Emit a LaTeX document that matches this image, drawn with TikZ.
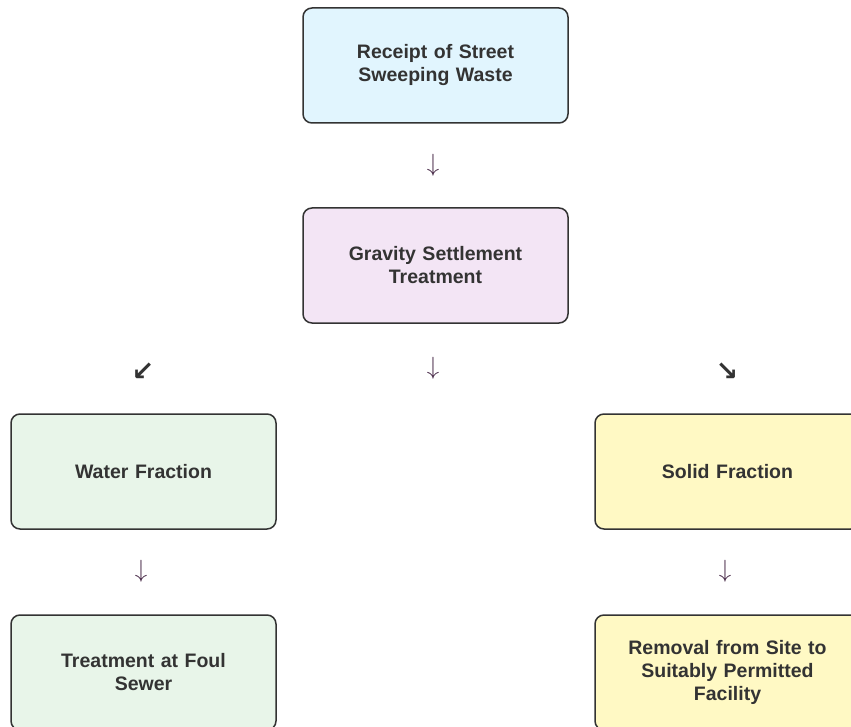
\documentclass[tikz,border=0pt]{standalone}
\usepackage{fontspec}
\setmainfont{Liberation Sans}
\newfontfamily\arrowfont{DejaVu Sans}
\definecolor{txt}{HTML}{333333}
\definecolor{bord}{HTML}{333333}
\definecolor{cblue}{HTML}{E1F5FE}
\definecolor{cpurple}{HTML}{F3E5F5}
\definecolor{cgreen}{HTML}{E8F5E9}
\definecolor{cyellow}{HTML}{FFF9C4}
\definecolor{arrowc}{HTML}{4A2C4A}
\begin{document}
\begin{tikzpicture}[x=1pt,y=-1pt,
  box/.style={draw=bord, line width=1.5pt, rounded corners=9pt, minimum width=265pt, minimum height=115pt,
    text width=250pt, align=center, font=\fontsize{19.5}{23}\selectfont\bfseries, text=txt, inner sep=0pt},
  darr/.style={text=arrowc, font=\fontsize{30}{30}\selectfont, inner sep=0pt},
  diag/.style={text=txt, font=\arrowfont\bfseries\fontsize{27}{27}\selectfont, inner sep=0pt}]
\useasboundingbox (0,0) rectangle (851,727);
\node[box, fill=cblue] (receipt) at (435.5,65.5) {Receipt of Street\\Sweeping Waste};
\node[box, fill=cpurple] (gravity) at (435.5,265.5) {Gravity Settlement\\Treatment};
\node[box, fill=cgreen] (water) at (143.5,471.5) {Water Fraction};
\node[box, fill=cyellow] (solid) at (727.5,471.5) {Solid Fraction};
\node[box, fill=cgreen] (foul) at (143.5,672.5) {Treatment at Foul\\Sewer};
\node[box, fill=cyellow] (removal) at (727.5,672.5) {Removal from Site to\\Suitably Permitted\\Facility};
\node[darr] (a1) at (433,165) {$\downarrow$};
\node[darr] (a2) at (433,368) {$\downarrow$};
\node[diag] (a3) at (143,372) {↙};
\node[diag] (a4) at (727,372) {↘};
\node[darr] (a5) at (141,571) {$\downarrow$};
\node[darr] (a6) at (725,571) {$\downarrow$};
\end{tikzpicture}
\end{document}
